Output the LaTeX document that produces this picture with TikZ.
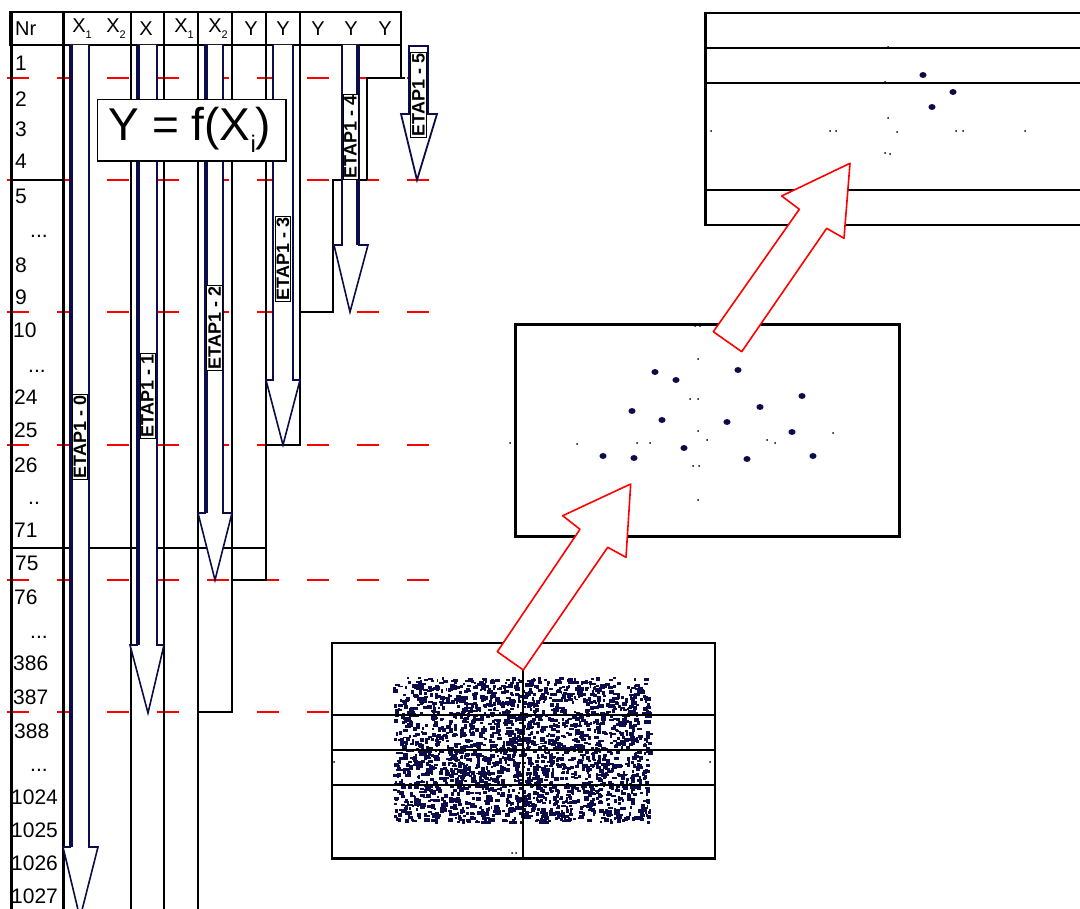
\documentclass[tikz,border=0pt]{standalone}
\usepackage{fontspec}
\setmainfont{Liberation Sans}
\definecolor{arrnavy}{RGB}{12,12,72}
\newcommand\hsub[1]{\raisebox{-0.3em}{\fontsize{11}{11}\selectfont #1}}
\newcommand\bigsub[1]{\raisebox{-0.25em}{\fontsize{24}{24}\selectfont #1}}
\begin{document}
\begin{tikzpicture}[x=1pt,y=-1pt,
  tbl/.style={line width=1.3pt,black},
  reddash/.style={red,line width=1.6pt,dash pattern=on 22pt off 28pt},
  arr/.style={draw=arrnavy,fill=white,line width=1.6pt,line join=miter},
  thickside/.style={arrnavy,line width=3.5pt},
  etap/.style={draw=black,fill=white,line width=0.7pt,rotate=90,inner sep=1.4pt,font=\fontsize{18}{18}\selectfont\bfseries},
  nr/.style={anchor=west,inner sep=0pt,font=\fontsize{21}{21}\selectfont},
  dots/.style={anchor=base west,inner sep=0pt,font=\fontsize{21}{21}\selectfont},
  hdr/.style={inner sep=0pt,font=\fontsize{20}{20}\selectfont},
  redarr/.style={draw=red,fill=white,line width=1.6pt,line join=round},
  bigdot/.style={fill=arrnavy},
  tick/.style={fill=black}
]
\useasboundingbox (0,0) rectangle (1080,909);
\fill[white] (0,0) rectangle (1080,909);

% red dashed level lines
\foreach \yy in {78,180,312,445,580} \draw[reddash] (7,\yy) -- (430,\yy);
\draw[reddash] (7,712) -- (330,712);

% table
\draw[line width=1.5pt] (10,12) rectangle (401,45);
\foreach \xx in {131,164,198,232,266,300} \draw[tbl] (\xx,12) -- (\xx,45);
\draw[line width=3pt] (11.5,12) -- (11.5,912);
\draw[line width=3pt] (63,12) -- (63,912);
\foreach \xx in {131,164,198} \draw[tbl] (\xx,45) -- (\xx,912);
\draw[tbl] (232,45) -- (232,712) -- (198,712);
\draw[tbl] (266,45) -- (266,580) -- (232,580);
\draw[tbl] (300,45) -- (300,445) -- (266,445);
\draw[tbl] (300,312) -- (333,312) -- (333,180) -- (367,180);
\draw[line width=1.8pt] (367,180) -- (367,78);
\draw[line width=2.2pt] (366,78) -- (405,78);
\draw[tbl] (401,45) -- (401,78);
\draw[line width=2pt] (10,180) -- (63,180);
\draw[tbl] (10,548) -- (266,548);

% header labels
\node[hdr,anchor=west] (hnr) at (15,29) {Nr};
\node[hdr] (hx1) at (82,29) {X\hsub{1}};
\node[hdr] (hx2) at (116,29) {X\hsub{2}};
\node[hdr] (hx3) at (146,29) {X};
\node[hdr] (hx4) at (184,29) {X\hsub{1}};
\node[hdr] (hx5) at (218,29) {X\hsub{2}};
\node[hdr] (hy1) at (251,29) {Y};
\node[hdr] (hy2) at (283,29) {Y};
\node[hdr] (hy3) at (318,29) {Y};
\node[hdr] (hy4) at (351,29) {Y};
\node[hdr] (hy5) at (385,29) {Y};

% row numbers
\node[nr] (r1) at (15,63) {1};
\node[nr] (r2) at (15,99) {2};
\node[nr] (r3) at (15,129) {3};
\node[nr] (r4) at (15,161) {4};
\node[nr] (r5) at (15,196) {5};
\node[dots] (d1) at (30,238) {...};
\node[nr] (r8) at (15,265) {8};
\node[nr] (r9) at (15,297) {9};
\node[nr] (r10) at (13,330) {10};
\node[dots] (d2) at (28,373) {...};
\node[nr] (r24) at (14,397) {24};
\node[nr] (r25) at (14,430) {25};
\node[nr] (r26) at (14,465) {26};
\node[dots] (d3) at (28,504) {..};
\node[nr] (r71) at (14,530) {71};
\node[nr] (r75) at (15,563) {75};
\node[nr] (r76) at (14,597) {76};
\node[dots] (d4) at (30,638) {...};
\node[nr] (r386) at (13,663) {386};
\node[nr] (r387) at (13,697) {387};
\node[nr] (r388) at (14,731) {388};
\node[dots] (d5) at (30,771) {...};
\node[nr] (r1024) at (11,797) {1024};
\node[nr] (r1025) at (11,830) {1025};
\node[nr] (r1026) at (11,863) {1026};
\node[nr] (r1027) at (11,896) {1027};

% block arrows ETAP
\draw[arr] (70,45) -- (70,847) -- (63,847) -- (80,918) -- (98,847) -- (89,847) -- (89,45);
\draw[thickside] (71.5,45) -- (71.5,847);
\node[etap] (e0) at (80,437) {ETAP1 - 0};

\draw[arr] (137,45) -- (137,645) -- (130,645) -- (148,713) -- (164,645) -- (157,645) -- (157,45);
\draw[thickside] (138.5,45) -- (138.5,645);
\node[etap] (e1) at (147.5,396) {ETAP1 - 1};

\draw[arr] (205,45) -- (205,513) -- (198,513) -- (215,580) -- (232,513) -- (223,513) -- (223,45);
\draw[thickside] (206.5,45) -- (206.5,513);
\node[etap] (e2) at (214.5,328) {ETAP1 - 2};

\draw[arr] (273,45) -- (273,380) -- (266,380) -- (283,445) -- (300,380) -- (293,380) -- (293,45);
\node[etap] (e3) at (283,259) {ETAP1 - 3};

\draw[arr] (342,45) -- (342,245) -- (334,245) -- (350,312) -- (368,245) -- (359,245) -- (359,45);
\draw[thickside] (357.5,45) -- (357.5,245);
\node[etap] (e4) at (350.5,137) {ETAP1 - 4};

\draw[arr,line width=1.8pt] (409,46) -- (409,114) -- (401,114) -- (417,180) -- (437,114) -- (428,114) -- (428,46) -- cycle;
\node[etap] (e5) at (418.5,95) {ETAP1 - 5};

% Y = f(Xi) box
\node[draw,fill=white,line width=1pt,minimum width=188pt,minimum height=61pt,anchor=north west,inner sep=0pt] (yfx) at (97,99) {};
\draw[line width=2.4pt] (yfx.north east) -- (yfx.south east) -- (yfx.south west);
\node[inner sep=0pt,font=\fontsize{46}{46}\selectfont] (yfxt) at (190,130) {Y = f(X\bigsub{i})};

% bottom scatter plot
\pgfmathsetseed{7}
\foreach \i in {1,...,2300}{
  \pgfmathsetmacro\rx{393+256*rnd}
  \pgfmathsetmacro\ry{677+144*rnd}
  \pgfmathsetmacro\rw{1.8+3.4*rnd}
  \pgfmathsetmacro\rh{1.8+2.4*rnd}
  \fill[arrnavy] (\rx,\ry) rectangle ++(\rw,\rh);
}
\draw[line width=1.5pt] (332,643) rectangle (715,858);
\draw[line width=3pt] (331,858) -- (716,858);
\foreach \yy in {715,750,785} \draw[line width=1.5pt] (332,\yy) -- (715,\yy);
\draw[line width=1.5pt] (523,643) -- (523,858);
\foreach \p in {(334,762),(460,762),(583,760),(710,762),(512,853),(516,853)} \fill[tick] \p circle (1);

% middle scatter plot
\draw[line width=3pt] (515,325) rectangle (899,536);
\foreach \p in {(655,372),(676,380),(738,370),(802,396),(760,407),(632,411),(662,420),(727,422),(792,432),(684,448),(603,456),(634,458),(747,459),(813,456)}
  \fill[bigdot] \p ellipse (3.6 and 3);
\foreach \p in {(698,359),(690,399),(698,399),(698,431),(707,440),(637,443),(650,443),(767,440),(775,443),(833,433),(577,444),(693,466),(699,466),(698,500),(510,443),(900,443),(695,326),(700,326)}
  \fill[tick] \p circle (1);

% top-right scatter plot
\draw[line width=3pt] (705.5,12) -- (705.5,226.5);
\foreach \yy in {13,48,83,190,225} \draw[line width=1.5pt] (705,\yy) -- (1080,\yy);
\foreach \p in {(923,75),(953,92),(932,107)} \fill[bigdot] \p ellipse (3.6 and 3);
\foreach \p in {(888,13),(888,47),(885,82),(888,118),(888,190),(888,225),(711,131),(830,131),(836,131),(897,132),(956,131),(963,131),(1025,131),(885,153),(890,154)}
  \fill[tick] \p circle (1);

% red block arrows
\draw[redarr] (630.7,484) -- (562.7,515.7) -- (580,529.3) -- (497.3,651.7) -- (523.3,670) -- (607.7,547.3) -- (626,557.3) -- cycle;
\draw[redarr] (850,163.3) -- (781.7,196) -- (799.3,209.3) -- (713.3,331.7) -- (741.7,351.7) -- (826.7,228.3) -- (844,238.3) -- cycle;
\end{tikzpicture}
\end{document}
